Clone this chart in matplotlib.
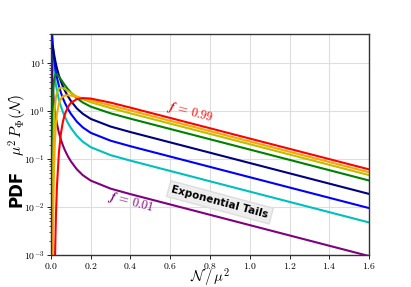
import matplotlib
matplotlib.use('Agg')
import matplotlib.pyplot as plt
from matplotlib.ticker import FixedLocator, LogLocator, NullFormatter

plt.rcParams['mathtext.fontset'] = 'cm'

# N / mu^2 sample positions
u = [0.001, 0.002, 0.003, 0.004, 0.006, 0.008, 0.01, 0.015, 0.02, 0.025, 0.03, 0.04,
     0.05, 0.06, 0.07, 0.085, 0.1, 0.13, 0.16, 0.2, 0.3, 0.4, 1.0, 1.6]

# mu^2 P(N), one list per curve
pdf_purple = [87, 31.1, 17.0, 11.1, 6.04, 3.93, 2.81, 1.53, 0.996, 0.713, 0.542, 0.352,
              0.252, 0.192, 0.152, 0.114, 0.0894, 0.0610, 0.0460, 0.0354, 0.0241, 0.0185, 0.00419, 0.00095]
pdf_cyan = [239, 115, 69.7, 47.7, 27.4, 18.2, 13.3, 7.37, 4.83, 3.48, 2.66, 1.74,
            1.25, 0.950, 0.755, 0.565, 0.444, 0.303, 0.229, 0.176, 0.120, 0.0922, 0.0209, 0.00476]
pdf_blue = [73.2, 90.4, 74.6, 59.7, 40.0, 28.8, 22.0, 13.0, 8.80, 6.46, 5.00, 3.31,
            2.40, 1.84, 1.47, 1.11, 0.872, 0.599, 0.454, 0.350, 0.240, 0.184, 0.0417, 0.00948]
pdf_navy = [0.081, 4.25, 12.3, 18.3, 22.9, 22.6, 20.8, 15.8, 12.1, 9.57, 7.78, 5.49,
            4.13, 3.25, 2.64, 2.03, 1.62, 1.13, 0.873, 0.683, 0.473, 0.363, 0.0823, 0.0187]
pdf_green = [1e-9, 1e-9, 0.0011, 0.0203, 0.309, 1.06, 2.07, 4.27, 5.40, 5.76, 5.72, 5.19,
             4.54, 3.94, 3.44, 2.85, 2.42, 1.84, 1.50, 1.23, 0.892, 0.689, 0.157, 0.0356]
pdf_olive = [1e-9, 1e-9, 1e-9, 1e-9, 0.00112, 0.0170, 0.0806, 0.546, 1.25, 1.91, 2.40, 2.93,
             3.06, 3.00, 2.86, 2.61, 2.37, 2.00, 1.75, 1.52, 1.15, 0.891, 0.203, 0.0461]
pdf_orange = [1e-9, 1e-9, 1e-9, 1e-9, 1e-9, 2.1e-4, 2.53e-3, 0.058, 0.245, 0.537, 0.863, 1.43,
              1.80, 2.00, 2.09, 2.12, 2.09, 1.97, 1.83, 1.66, 1.30, 1.02, 0.231, 0.0527]
pdf_red = [1e-9, 1e-9, 1e-9, 1e-9, 1e-9, 1e-9, 1e-9, 1.9e-5, 7.6e-4, 6.6e-3, 0.0264, 0.137,
           0.341, 0.597, 0.858, 1.20, 1.47, 1.76, 1.85, 1.81, 1.49, 1.17, 0.266, 0.0606]

curves = [pdf_purple, pdf_cyan, pdf_blue, pdf_navy, pdf_green, pdf_olive, pdf_orange, pdf_red]
colors = ['purple', 'c', 'blue', 'navy', 'green', 'y', 'orange', 'red']

xticks = [0.0, 0.2, 0.4, 0.6, 0.8, 1.0, 1.2, 1.4, 1.6]

fig = plt.figure(figsize=(4.11, 2.87), dpi=100)
ax = fig.add_axes([0.124, 0.1115, 0.774, 0.77])

for y, c in zip(curves, colors):
    ax.plot(u, y, color=c, lw=1.5)

ax.set_yscale('log')
ax.set_xlim(0, 1.6)
ax.set_ylim(1e-3, 40)

ax.xaxis.set_major_locator(FixedLocator(xticks))
ax.set_xticklabels([r'$\mathbf{%.1f}$' % t for t in xticks])
ax.yaxis.set_minor_locator(LogLocator(base=10, subs=range(2, 10), numticks=10))
ax.yaxis.set_minor_formatter(NullFormatter())
ax.set_yticks([1e-3, 1e-2, 1e-1, 1e0, 1e1])
ax.set_yticklabels([r'$\mathbf{10^{-3}}$', r'$\mathbf{10^{-2}}$', r'$\mathbf{10^{-1}}$',
                    r'$\mathbf{10^{0}}$', r'$\mathbf{10^{1}}$'])
ax.tick_params(axis='both', which='major', labelsize=7, length=3, width=0.6, pad=1.5)
ax.tick_params(axis='x', which='major', pad=1)
ax.tick_params(axis='y', which='minor', length=1.5, width=0.5)

ax.grid(True, which='major', color='#dddddd', lw=0.8)
for s in ax.spines.values():
    s.set_color('#333333')
    s.set_linewidth(1.0)

# axis labels placed by hand to match the reference
fig.text(0.511, 0.02, r'$\mathcal{N}\,/\,\mu^2$', fontsize=10.5,
         ha='center', va='baseline')
fig.text(0.040, 0.345, 'PDF', fontsize=12, fontweight='bold', rotation=90,
         ha='center', va='center')
fig.text(0.044, 0.565, r'$\mu^2\, P_\Phi(\mathcal{N})$', fontsize=11, rotation=90,
         ha='center', va='center')

ax.text(0.70, 0.95, r'$\boldsymbol{f\,=\,0.99}$', color='red', fontsize=9, rotation=-15,
        ha='center', va='center')
ax.text(0.40, 0.0125, r'$\boldsymbol{f\,=\,0.01}$', color='purple', fontsize=9, rotation=-15,
        ha='center', va='center')
ax.text(0.85, 0.0125, 'Exponential Tails', fontsize=7.5, fontweight='bold', rotation=-15,
        ha='center', va='center',
        bbox=dict(boxstyle='square,pad=0.3', facecolor='#eeeeee', edgecolor='#dddddd'))

plt.savefig('out.png', dpi=100)
plt.close()
